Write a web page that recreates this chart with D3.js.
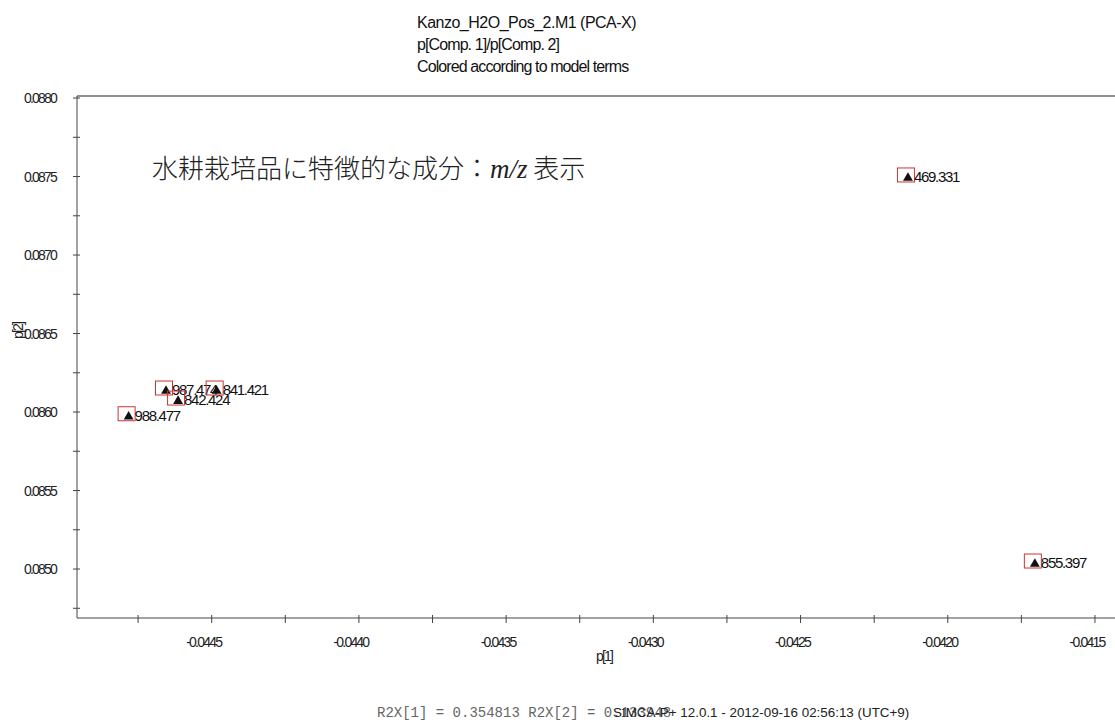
<!DOCTYPE html>
<html>
<head>
<meta charset="utf-8">
<script src="https://cdn.jsdelivr.net/npm/d3@7"></script>
<style>
  html, body { margin: 0; padding: 0; background: #fff; }
  svg { display: block; }
  .tick-label { font-family: "Liberation Sans", Arial, sans-serif; font-size: 14px; letter-spacing: -1.8px; fill: #222; }
  .point-label { font-family: "Liberation Sans", Arial, sans-serif; font-size: 15px; letter-spacing: -1.3px; fill: #111; }
</style>
</head>
<body>
<svg id="chart" width="1115" height="724"></svg>
<script>
// Loading vectors: m/z labels and their p[1] / p[2] coordinates
const labels = ["469.331", "855.397", "987.474", "842.424", "841.421", "988.477"];
const p1 = [-0.042142, -0.041711, -0.044662, -0.044621, -0.044490, -0.044789];
const p2 = [0.087510, 0.085051, 0.086153, 0.086089, 0.086153, 0.085989];

const xTicks = [-0.0445, -0.0440, -0.0435, -0.0430, -0.0425, -0.0420, -0.0415];
const yTicks = [0.0850, 0.0855, 0.0860, 0.0865, 0.0870, 0.0875, 0.0880];
const xDomain = [-0.0449575, -0.041432];
const yDomain = [0.084688, 0.088013];

const titleLines = ["Kanzo_H2O_Pos_2.M1 (PCA-X)", "p[Comp. 1]/p[Comp. 2]", "Colored according to model terms"];

const svg = d3.select("#chart");
const plotLeft = 77, plotRight = 1115, plotTop = 96, plotBottom = 618;

const x = d3.scaleLinear().domain(xDomain).range([plotLeft, plotRight]);
const y = d3.scaleLinear().domain(yDomain).range([plotBottom, plotTop]);

// Title block
svg.append("g").selectAll("text").data(titleLines).join("text")
  .attr("x", 417).attr("y", (d, i) => 28 + i * 22)
  .attr("font-family", "'Liberation Sans', Arial, sans-serif")
  .attr("font-size", 16).attr("letter-spacing", (d, i) => i === 0 ? -0.5 : -0.9).attr("fill", "#111")
  .text(d => d);

// Top frame line
svg.append("line").attr("x1", plotLeft).attr("x2", plotRight).attr("y1", plotTop).attr("y2", plotTop)
  .attr("stroke", "#222").attr("stroke-width", 1);

// Minor tick positions (halfway between labelled ticks)
const xMinor = d3.range(-0.04475, -0.0414, 0.0005);
const yMinor = d3.range(0.08475, 0.0880, 0.0005);

// X axis
const gx = svg.append("g").attr("transform", `translate(0,${plotBottom})`);
gx.append("line").attr("x1", plotLeft).attr("x2", plotRight).attr("stroke", "#444");
gx.selectAll("line.t").data(xTicks.concat(xMinor)).join("line").attr("class", "t")
  .attr("x1", d => x(d)).attr("x2", d => x(d)).attr("y1", -3).attr("y2", 5)
  .attr("stroke", "#444");
gx.selectAll("text").data(xTicks).join("text").attr("class", "tick-label")
  .attr("x", d => x(d) - 8).attr("y", 29).attr("text-anchor", "middle")
  .text(d => d3.format(".4f")(d).replace("−", "-"));

// Y axis
const gy = svg.append("g").attr("transform", `translate(${plotLeft},0)`);
gy.append("line").attr("y1", plotTop).attr("y2", plotBottom).attr("stroke", "#444");
gy.selectAll("line.t").data(yTicks.concat(yMinor)).join("line").attr("class", "t")
  .attr("y1", d => y(d)).attr("y2", d => y(d)).attr("x1", -4).attr("x2", 3)
  .attr("stroke", "#444");
gy.selectAll("text").data(yTicks).join("text").attr("class", "tick-label")
  .attr("x", -21).attr("y", d => y(d) + 5).attr("text-anchor", "end")
  .text(d => d3.format(".4f")(d));

// Axis titles
svg.append("text").attr("x", 604).attr("y", 661).attr("text-anchor", "middle")
  .attr("class", "tick-label").text("p[1]");
svg.append("text").attr("transform", "translate(23,331) rotate(-90)")
  .attr("text-anchor", "middle").attr("class", "tick-label").text("p[2]");

// Annotation
const note = svg.append("text").attr("x", 152).attr("y", 178)
  .attr("font-family", "'Noto Sans CJK JP', sans-serif").attr("font-size", 26)
  .attr("font-weight", 300).attr("fill", "#222");
note.append("tspan").text("水耕栽培品に特徴的な成分：");
note.append("tspan").attr("font-family", "'Liberation Serif', serif").attr("font-style", "italic")
  .attr("font-size", 27).text("m/z");
note.append("tspan").text(" 表示");

// Points
const pts = labels.map((l, i) => ({ label: l, p1: p1[i], p2: p2[i] }));
const gp = svg.append("g");
const pg = gp.selectAll("g").data(pts).join("g")
  .attr("transform", d => `translate(${x(d.p1)},${y(d.p2)})`);
pg.append("rect").attr("x", -8.5).attr("y", -7).attr("width", 17).attr("height", 14)
  .attr("fill", "none").attr("stroke", "#cc3333").attr("stroke-width", 1);
pg.append("path").attr("d", d3.symbol(d3.symbolTriangle, 42)())
  .attr("transform", "translate(2,3)").attr("fill", "#111");
pg.append("text").attr("x", 8).attr("y", 7).attr("class", "point-label")
  .text(d => d.label);

// Footer
svg.append("text").attr("x", 377).attr("y", 717)
  .attr("font-family", "'Liberation Mono', 'DejaVu Sans Mono', monospace")
  .attr("font-size", 14).attr("fill", "#666")
  .text("R2X[1] = 0.354813 R2X[2] = 0.133948");
svg.append("text").attr("x", 613).attr("y", 717)
  .attr("font-family", "'Liberation Sans', Arial, sans-serif")
  .attr("font-size", 13.4).attr("fill", "#222")
  .text("SIMCA-P+ 12.0.1 - 2012-09-16 02:56:13 (UTC+9)");
</script>
</body>
</html>
